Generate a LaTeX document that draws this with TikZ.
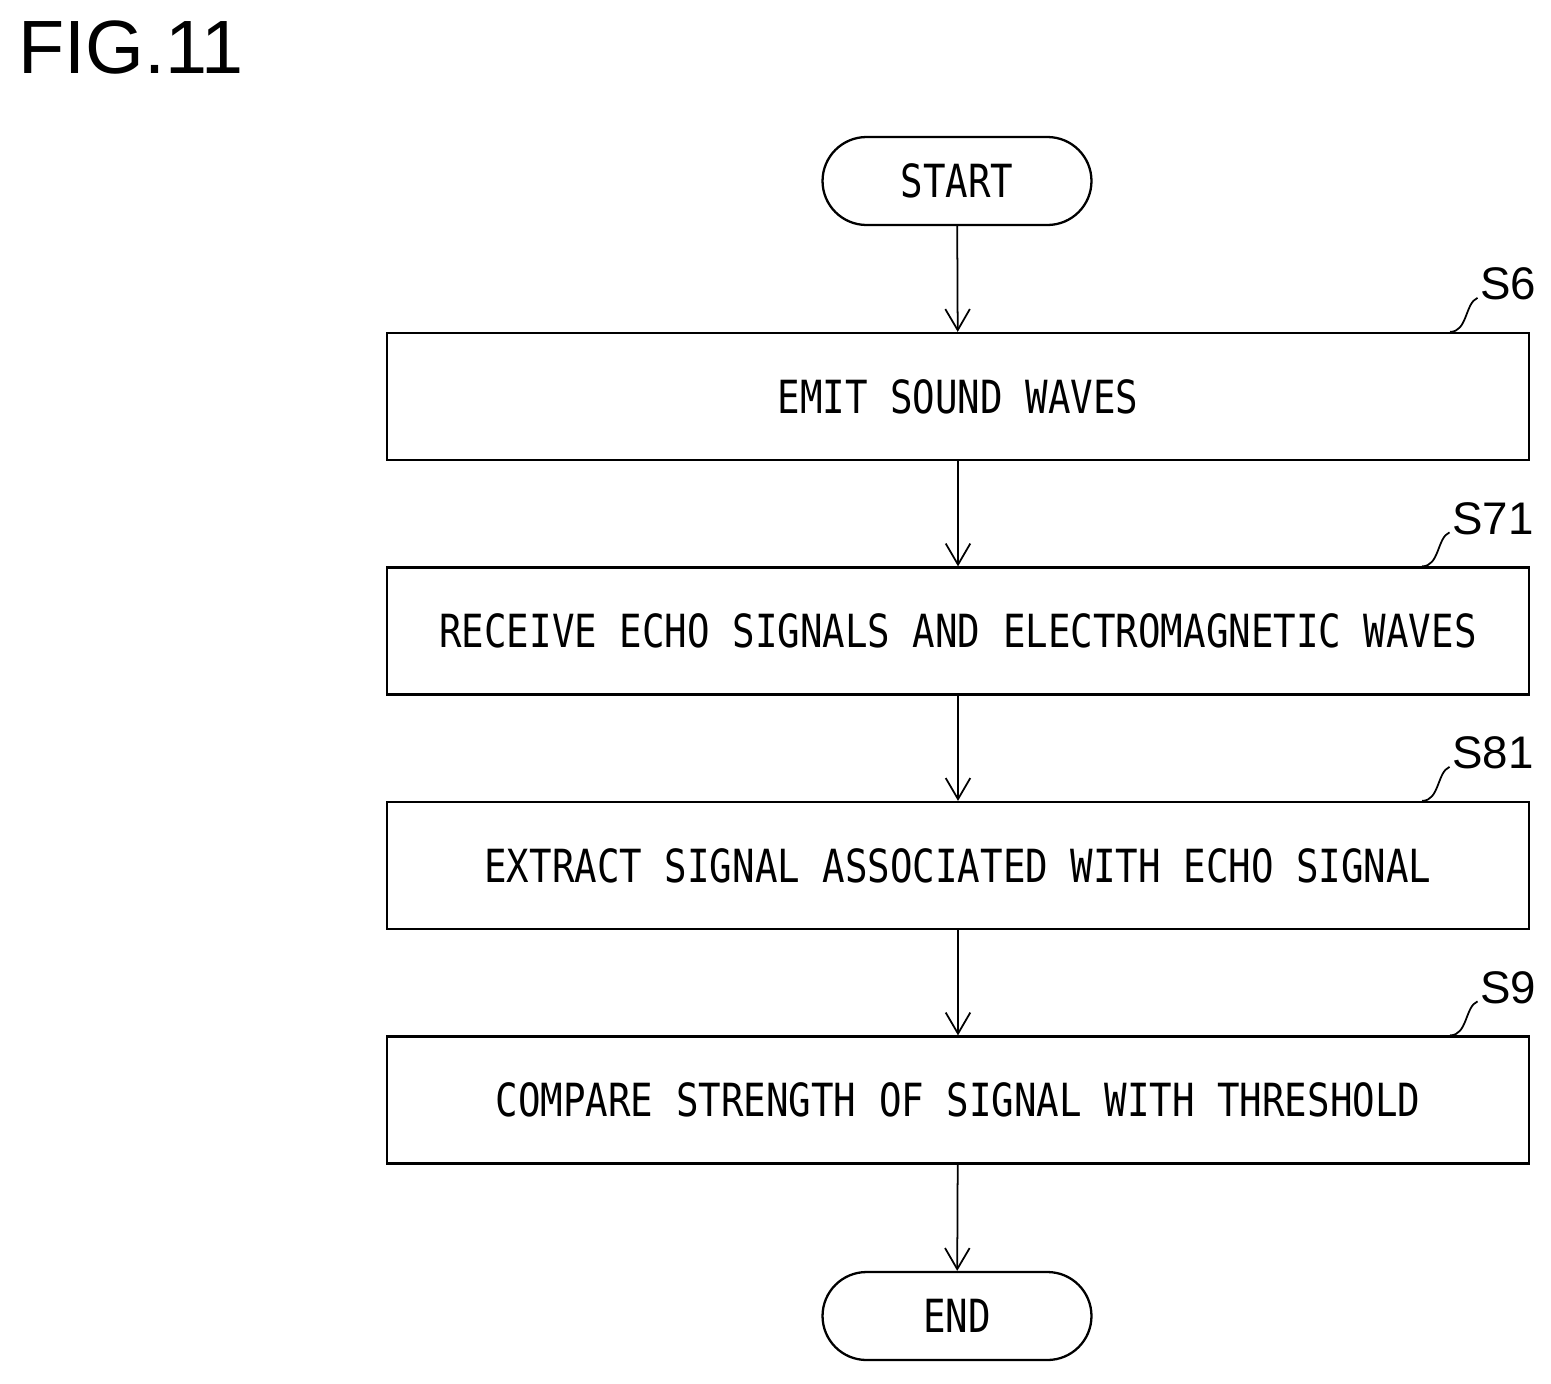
\documentclass[tikz,border=0pt]{standalone}
\usepackage{fontspec}
\setmainfont{Liberation Sans}
\newfontfamily\stepfont[FakeStretch=0.82]{DejaVu Sans Mono}
\usetikzlibrary{arrows.meta}
\tikzset{
  stepbox/.style={draw, line width=1.3pt, minimum width=22.84cm, minimum height=2.54cm,
    font=\stepfont\fontsize{26}{30}\selectfont, inner sep=0pt},
  term/.style={draw, line width=1.3pt, rounded corners=0.88cm, minimum width=5.38cm,
    minimum height=1.76cm, font=\stepfont\fontsize{26}{30}\selectfont},
  flow/.style={line width=1pt, -{Straight Barb[length=12pt,width=14pt]}},
  tag/.style={font=\fontsize{26}{30}\selectfont, anchor=south west, inner sep=0pt},
}
\begin{document}
\begin{tikzpicture}[x=0.02cm, y=-0.02cm]
  \useasboundingbox (0,0) rectangle (1551,1383);
  \node[anchor=north west, inner sep=0pt, font=\fontsize{43}{48}\selectfont] at (18,20) {FIG.11};
  \node[term] (start) at (957,181) {START};
  \node[stepbox] (s6) at (958,396.5) {EMIT SOUND WAVES};
  \node[stepbox] (s71) at (958,631) {RECEIVE ECHO SIGNALS AND ELECTROMAGNETIC WAVES};
  \node[stepbox] (s81) at (958,865.5) {EXTRACT SIGNAL ASSOCIATED WITH ECHO SIGNAL};
  \node[stepbox] (s9) at (958,1100) {COMPARE STRENGTH OF SIGNAL WITH THRESHOLD};
  \node[term] (end) at (957,1316) {END};
  % step labels
  \foreach \b/\t/\dx in {s6/S6/80, s71/S71/108, s81/S81/108, s9/S9/80}{
    \coordinate (\b-a) at ([xshift=-\dx*0.02cm]\b.north east);
    \coordinate (\b-b) at ([xshift=-\dx*0.02cm+0.55cm, yshift=0.68cm]\b.north east);
    \draw[line width=1pt] (\b-a) .. controls +(0.35cm,0) and +(-0.25cm,-0.1cm) .. (\b-b);
    \node[tag] at ([xshift=0.05cm, yshift=-0.05cm]\b-b) {\t};
  }
  \draw[flow] (start) -- (s6);
  \draw[flow] (s6) -- (s71);
  \draw[flow] (s71) -- (s81);
  \draw[flow] (s81) -- (s9);
  \draw[flow] (s9) -- (end);
\end{tikzpicture}
\end{document}
